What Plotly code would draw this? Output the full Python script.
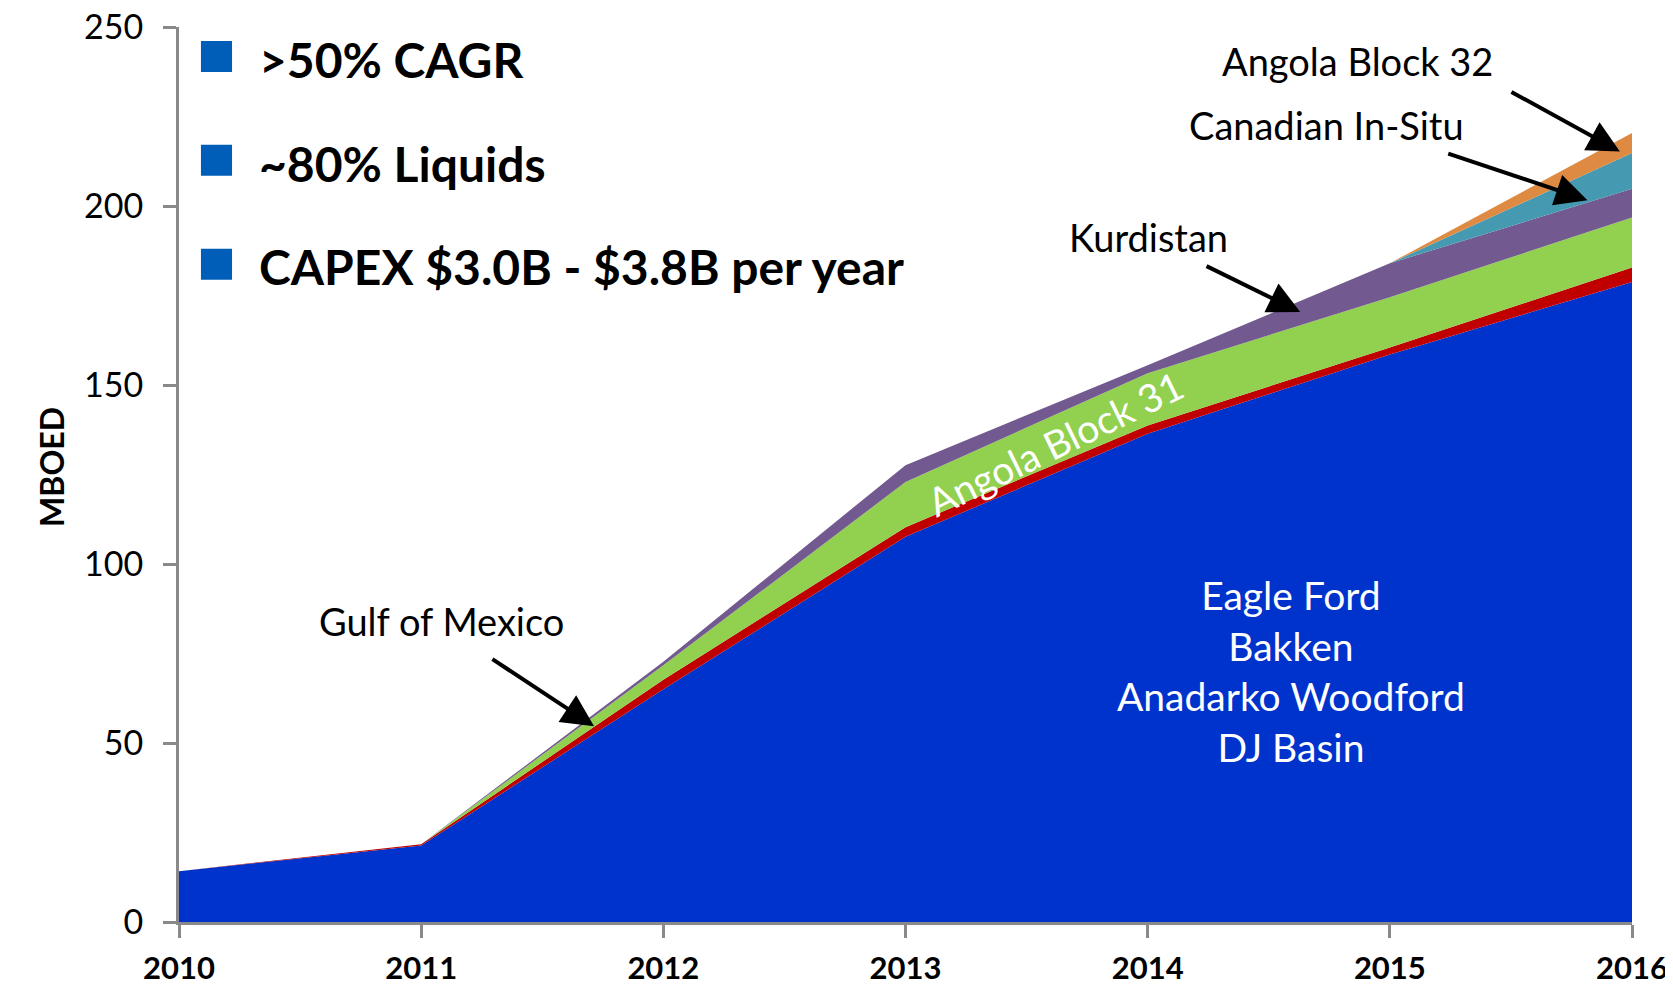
import plotly.graph_objects as go

# production by area (MBOED)
years = [2010, 2011, 2012, 2013, 2014, 2015, 2016]
eagle_ford = [14.2, 21.4, 65.0, 107.6, 136.4, 158.5, 178.8]
gulf_of_mexico = [0.0, 0.3, 2.7, 2.7, 2.3, 2.0, 4.0]
angola_31 = [0.0, 0.0, 4.0, 12.6, 14.6, 14.0, 14.0]
kurdistan = [0.0, 0.0, 1.0, 4.7, 2.2, 9.5, 8.0]
canadian_in_situ = [0.0, 0.0, 0.0, 0.0, 0.0, 0.0, 10.0]
angola_32 = [0.0, 0.0, 0.0, 0.0, 0.0, 0.0, 5.6]

y_ticks = [0, 50, 100, 150, 200, 250]
bullets = [">50% CAGR", "~80% Liquids", "CAPEX $3.0B - $3.8B per year"]
basin_lines = ["Eagle Ford", "Bakken", "Anadarko Woodford", "DJ Basin"]

FONT = "Lato"

series = [
    ("Eagle Ford", eagle_ford, "#0033CC"),
    ("Gulf of Mexico", gulf_of_mexico, "#C00000"),
    ("Angola Block 31", angola_31, "#92D050"),
    ("Kurdistan", kurdistan, "#72598F"),
    ("Canadian In-Situ", canadian_in_situ, "#4599B0"),
    ("Angola Block 32", angola_32, "#DE8A42"),
]

fig = go.Figure()
for name, vals, color in series:
    fig.add_trace(go.Scatter(
        x=years, y=vals, name=name,
        mode="lines", stackgroup="one",
        line=dict(width=0, color=color),
        fillcolor=color,
        showlegend=False,
    ))

# callouts: label text at (tx, ty), arrow from (x0, y0) to head (x1, y1)
callouts = [
    ("Gulf of Mexico", 2011.086, 84.0, 2011.288, 73.7, 2011.714, 54.7),
    ("Kurdistan", 2014.005, 191.3, 2014.237, 183.4, 2014.630, 170.4),
    ("Canadian In-Situ", 2014.738, 222.6, 2015.235, 214.8, 2015.816, 201.6),
    ("Angola Block 32", 2014.865, 240.5, 2015.496, 232.1, 2015.950, 215.2),
]
for text, tx, ty, x0, y0, x1, y1 in callouts:
    fig.add_annotation(x=tx, y=ty, text=text, showarrow=False,
                       font=dict(family=FONT, size=38, color="black"))
    fig.add_annotation(x=x1, y=y1, ax=x0, ay=y0, axref="x", ayref="y",
                       text="", showarrow=True, arrowhead=2, arrowsize=1.6,
                       arrowwidth=4, arrowcolor="black")

fig.add_annotation(x=2013.621, y=133.7, text="Angola Block 31", showarrow=False,
                   textangle=-26, font=dict(family=FONT, size=39, color="white"))

fig.add_annotation(x=2014.592, y=70.2, text="<br>".join(basin_lines), showarrow=False,
                   align="center", font=dict(family=FONT, size=39, color="white"))

# bullet list, top left
bullet_y = [0.967, 0.851, 0.735]
for label, yc in zip(bullets, bullet_y):
    fig.add_shape(type="rect", xref="paper", yref="paper",
                  x0=0.0151, x1=0.0365, y0=yc - 0.0173, y1=yc + 0.0173,
                  fillcolor="#005EB8", line_width=0)
    fig.add_annotation(xref="paper", yref="paper", x=0.0537, y=yc - 0.003, text=label,
                       xanchor="left", yanchor="middle", showarrow=False,
                       font=dict(family=FONT, size=48, color="black", weight="bold"))

fig.add_annotation(xref="paper", yref="paper", x=-0.1025, y=0.508, text="MBOED",
                   textangle=-90, showarrow=False,
                   font=dict(family=FONT, size=32, color="black", weight="bold"))

fig.update_xaxes(
    range=[2010, 2016], tickvals=years, ticktext=[str(y) for y in years],
    showgrid=False, zeroline=False, automargin=False,
    showline=True, linecolor="#898989", linewidth=3,
    ticks="outside", ticklen=13, tickwidth=3, tickcolor="#898989",
    ticklabelstandoff=4, ticklabeloverflow="allow",
    tickfont=dict(family=FONT, size=31, color="black", weight="bold"),
)
fig.update_yaxes(
    range=[0, 250], tickvals=y_ticks,
    showgrid=False, zeroline=False, automargin=False,
    showline=True, linecolor="#898989", linewidth=3,
    ticks="outside", ticklen=13, tickwidth=3, tickcolor="#898989",
    ticklabelstandoff=13, ticklabeloverflow="allow",
    tickfont=dict(family=FONT, size=34, color="black"),
)

# page body has an 8px margin, so the figure is sized to fit inside it
fig.update_layout(
    width=1665, height=981,
    margin=dict(l=171, r=41, t=19, b=67),
    plot_bgcolor="white", paper_bgcolor="white",
    showlegend=False,
)

fig.write_html("out.html")
